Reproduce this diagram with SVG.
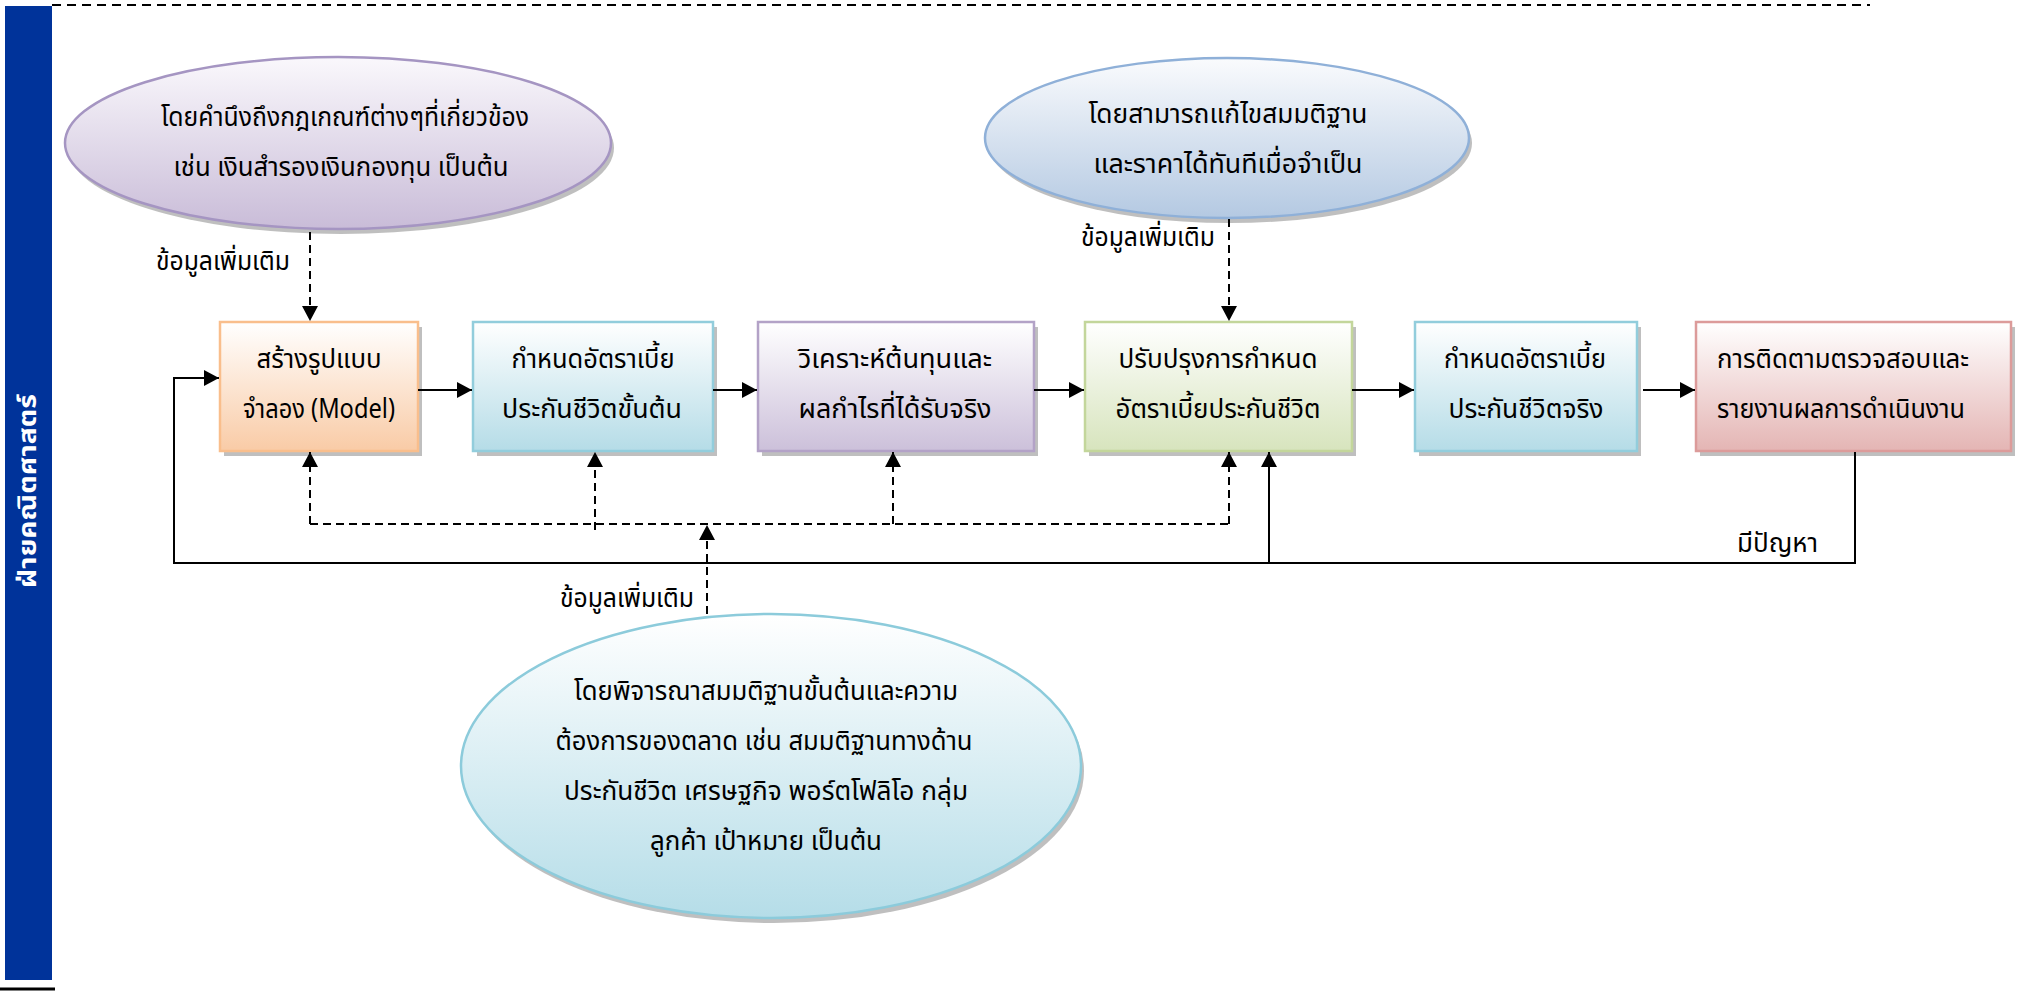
<svg xmlns="http://www.w3.org/2000/svg" width="2026" height="993" viewBox="0 0 2026 993">
<defs>
<style>
.t{font-family:"Noto Sans Thai","Noto Serif Thai","Noto Sans","Liberation Sans",sans-serif;font-size:27px;fill:#000;text-anchor:middle}
.ts{font-family:"Noto Sans Thai","Noto Serif Thai","Noto Sans","Liberation Sans",sans-serif;font-size:27px;fill:#000;text-anchor:start}
.c{fill:none;stroke:#000;stroke-width:2}
.d{fill:none;stroke:#000;stroke-width:2;stroke-dasharray:8 5}
.sh{fill:#8a8a8a;opacity:0.55}
</style>
<marker id="ah" markerUnits="userSpaceOnUse" markerWidth="16" markerHeight="16" refX="15" refY="8" orient="auto"><path d="M0,0 L15,8 L0,16 z" fill="#000"/></marker>
<linearGradient id="gO" x1="0" y1="0" x2="0" y2="1"><stop offset="0" stop-color="#ffffff"/><stop offset="1" stop-color="#f9cba6"/></linearGradient>
<linearGradient id="gB" x1="0" y1="0" x2="0" y2="1"><stop offset="0" stop-color="#ffffff"/><stop offset="1" stop-color="#b5dce7"/></linearGradient>
<linearGradient id="gP" x1="0" y1="0" x2="0" y2="1"><stop offset="0" stop-color="#ffffff"/><stop offset="1" stop-color="#ccc0da"/></linearGradient>
<linearGradient id="gG" x1="0" y1="0" x2="0" y2="1"><stop offset="0" stop-color="#ffffff"/><stop offset="1" stop-color="#d7e4bd"/></linearGradient>
<linearGradient id="gR" x1="0" y1="0" x2="0" y2="1"><stop offset="0" stop-color="#ffffff"/><stop offset="1" stop-color="#e4b5b4"/></linearGradient>
<linearGradient id="gE1" x1="0" y1="0" x2="0" y2="1"><stop offset="0" stop-color="#faf8fc"/><stop offset="1" stop-color="#c9bcd8"/></linearGradient>
<linearGradient id="gE2" x1="0" y1="0" x2="0" y2="1"><stop offset="0" stop-color="#fafbfd"/><stop offset="1" stop-color="#b4c9e2"/></linearGradient>
<linearGradient id="gE3" x1="0" y1="0" x2="0" y2="1"><stop offset="0" stop-color="#ffffff"/><stop offset="1" stop-color="#b5dde8"/></linearGradient>
</defs>
<rect width="2026" height="993" fill="#ffffff"/>

<g id="sidebar">
<rect x="5" y="6" width="47" height="974" fill="#00339a"/>
<line x1="0" y1="989" x2="55" y2="989" stroke="#000" stroke-width="3"/>
<text transform="translate(36,491) rotate(-90)" text-anchor="middle" font-family="'Noto Sans Thai','Noto Sans',sans-serif" font-size="24" font-weight="bold" fill="#ffffff" textLength="194" lengthAdjust="spacingAndGlyphs">ฝ่ายคณิตศาสตร์</text>
</g>
<line id="topline" x1="52" y1="5" x2="1870" y2="5" stroke="#000" stroke-width="2" stroke-dasharray="9 6"/>

<g id="ellipse-rules">
<ellipse class="sh" cx="341" cy="148" rx="273" ry="86"/>
<ellipse cx="338" cy="143" rx="273" ry="86" fill="url(#gE1)" stroke="#a595c2" stroke-width="2.5"/>
<text class="t" x="345" y="126" textLength="368" lengthAdjust="spacingAndGlyphs">โดยคำนึงถึงกฎเกณฑ์ต่างๆที่เกี่ยวข้อง</text>
<text class="t" x="341" y="176" textLength="335" lengthAdjust="spacingAndGlyphs">เช่น เงินสำรองเงินกองทุน เป็นต้น</text>
</g>

<g id="ellipse-adjust">
<ellipse class="sh" cx="1230" cy="143" rx="242" ry="80"/>
<ellipse cx="1227" cy="138" rx="242" ry="80" fill="url(#gE2)" stroke="#8fb0d8" stroke-width="2.5"/>
<text class="t" x="1228" y="123" textLength="279" lengthAdjust="spacingAndGlyphs">โดยสามารถแก้ไขสมมติฐาน</text>
<text class="t" x="1228" y="173" textLength="269" lengthAdjust="spacingAndGlyphs">และราคาได้ทันทีเมื่อจำเป็น</text>
</g>

<g id="ellipse-market">
<ellipse class="sh" cx="774" cy="771" rx="310" ry="152"/>
<ellipse cx="771" cy="766" rx="310" ry="152" fill="url(#gE3)" stroke="#8ccbdb" stroke-width="2.5"/>
<text class="t" x="766" y="700" textLength="384" lengthAdjust="spacingAndGlyphs">โดยพิจารณาสมมติฐานขั้นต้นและความ</text>
<text class="t" x="764" y="750" textLength="417" lengthAdjust="spacingAndGlyphs">ต้องการของตลาด  เช่น สมมติฐานทางด้าน</text>
<text class="t" x="766" y="800" textLength="404" lengthAdjust="spacingAndGlyphs">ประกันชีวิต เศรษฐกิจ พอร์ตโฟลิโอ กลุ่ม</text>
<text class="t" x="766" y="850" textLength="232" lengthAdjust="spacingAndGlyphs">ลูกค้า เป้าหมาย  เป็นต้น</text>
</g>

<g id="box-model">
<rect class="sh" x="224" y="327" width="198" height="129"/>
<rect x="220" y="322" width="198" height="129" fill="url(#gO)" stroke="#f9be8c" stroke-width="2.5"/>
<text class="t" x="319" y="368" textLength="125" lengthAdjust="spacingAndGlyphs">สร้างรูปแบบ</text>
<text class="t" x="319" y="418" textLength="152" lengthAdjust="spacingAndGlyphs">จำลอง (Model)</text>
</g>

<g id="box-initial-rate">
<rect class="sh" x="477" y="327" width="240" height="129"/>
<rect x="473" y="322" width="240" height="129" fill="url(#gB)" stroke="#92cddc" stroke-width="2.5"/>
<text class="t" x="593" y="368" textLength="163" lengthAdjust="spacingAndGlyphs">กำหนดอัตราเบี้ย</text>
<text class="t" x="592" y="418" textLength="180" lengthAdjust="spacingAndGlyphs">ประกันชีวิตขั้นต้น</text>
</g>

<g id="box-analyze">
<rect class="sh" x="762" y="327" width="276" height="129"/>
<rect x="758" y="322" width="276" height="129" fill="url(#gP)" stroke="#b3a2c7" stroke-width="2.5"/>
<text class="t" x="895" y="368" textLength="194" lengthAdjust="spacingAndGlyphs">วิเคราะห์ต้นทุนและ</text>
<text class="t" x="895" y="418" textLength="193" lengthAdjust="spacingAndGlyphs">ผลกำไรที่ได้รับจริง</text>
</g>

<g id="box-improve">
<rect class="sh" x="1089" y="327" width="267" height="129"/>
<rect x="1085" y="322" width="267" height="129" fill="url(#gG)" stroke="#c3d69b" stroke-width="2.5"/>
<text class="t" x="1218" y="368" textLength="199" lengthAdjust="spacingAndGlyphs">ปรับปรุงการกำหนด</text>
<text class="t" x="1218" y="418" textLength="205" lengthAdjust="spacingAndGlyphs">อัตราเบี้ยประกันชีวิต</text>
</g>

<g id="box-actual-rate">
<rect class="sh" x="1419" y="327" width="222" height="129"/>
<rect x="1415" y="322" width="222" height="129" fill="url(#gB)" stroke="#92cddc" stroke-width="2.5"/>
<text class="t" x="1525" y="368" textLength="162" lengthAdjust="spacingAndGlyphs">กำหนดอัตราเบี้ย</text>
<text class="t" x="1526" y="418" textLength="155" lengthAdjust="spacingAndGlyphs">ประกันชีวิตจริง</text>
</g>

<g id="box-monitor">
<rect class="sh" x="1700" y="327" width="315" height="129"/>
<rect x="1696" y="322" width="315" height="129" fill="url(#gR)" stroke="#dc9b9a" stroke-width="2.5"/>
<text class="ts" x="1717" y="368" textLength="252" lengthAdjust="spacingAndGlyphs">การติดตามตรวจสอบและ</text>
<text class="ts" x="1717" y="418" textLength="248" lengthAdjust="spacingAndGlyphs">รายงานผลการดำเนินงาน</text>
</g>

<g id="connectors">
<path class="d" d="M310,232 V321" marker-end="url(#ah)"/>
<path class="d" d="M1229,219 V321" marker-end="url(#ah)"/>
<path class="c" d="M418,390 H472" marker-end="url(#ah)"/>
<path class="c" d="M713,390 H757" marker-end="url(#ah)"/>
<path class="c" d="M1034,390 H1084" marker-end="url(#ah)"/>
<path class="c" d="M1352,390 H1414" marker-end="url(#ah)"/>
<path class="c" d="M1643,390 H1695" marker-end="url(#ah)"/>
<path class="c" d="M1855,452 V563 H174 V378 H219" marker-end="url(#ah)"/>
<path class="c" d="M1269,563 V452" marker-end="url(#ah)"/>
<path class="d" d="M310,524 H1229"/>
<path class="d" d="M310,524 V452" marker-end="url(#ah)"/>
<path class="d" d="M595,530 V452" marker-end="url(#ah)"/>
<path class="d" d="M893,524 V452" marker-end="url(#ah)"/>
<path class="d" d="M1229,524 V452" marker-end="url(#ah)"/>
<path class="d" d="M707,614 V525" marker-end="url(#ah)"/>
<text class="t" x="223" y="270" textLength="134" lengthAdjust="spacingAndGlyphs">ข้อมูลเพิ่มเติม</text>
<text class="t" x="1148" y="246" textLength="134" lengthAdjust="spacingAndGlyphs">ข้อมูลเพิ่มเติม</text>
<text class="t" x="627" y="607" textLength="134" lengthAdjust="spacingAndGlyphs">ข้อมูลเพิ่มเติม</text>
<text class="ts" x="1737" y="552" textLength="81" lengthAdjust="spacingAndGlyphs">มีปัญหา</text>
</g>
</svg>
